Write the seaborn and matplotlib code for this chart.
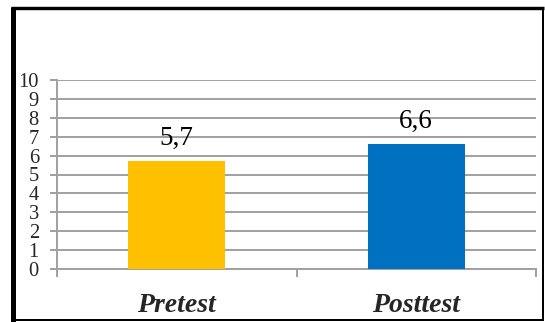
import matplotlib
matplotlib.use("Agg")
import matplotlib.pyplot as plt
import seaborn as sns
import pandas as pd
from matplotlib.lines import Line2D
from matplotlib.ticker import FixedLocator

categories = ["Pretest", "Posttest"]
values = [5.7, 6.6]
value_labels = ["5,7", "6,6"]
colors = ["#FFC000", "#0070C0"]
yticks = list(range(0, 11))

sns.set_style("white")
plt.rcParams['font.family'] = ['Liberation Serif', 'DejaVu Serif']

W, H = 545, 322
fig = plt.figure(figsize=(W / 100, H / 100), dpi=100)
ax = fig.add_axes([57 / W, 1 - 269 / H, (536 - 57) / W, (269 - 80) / H])

df = pd.DataFrame({"cat": categories, "val": values})
sns.barplot(data=df, x="cat", y="val", hue="cat", palette=colors, legend=False,
            width=0.405, saturation=1, ax=ax, zorder=3, edgecolor="none",
            linewidth=0)

grid_c = "#A0A0A0"
ax.set_ylim(0, 10)
ax.set_xlim(-0.5, 1.5)
ax.set_yticks(yticks)
ax.set_yticklabels([str(t) for t in yticks])
ax.yaxis.grid(True, color=grid_c, linewidth=1.4, zorder=0)
ax.set_axisbelow(True)
ax.set_xlabel("")
ax.set_ylabel("")

for s in ["top", "right"]:
    ax.spines[s].set_visible(False)
for s in ["left", "bottom"]:
    ax.spines[s].set_color(grid_c)
    ax.spines[s].set_linewidth(1.4)
    ax.spines[s].set_zorder(1)

ax.tick_params(axis="y", direction="out", length=5, width=1.4, color=grid_c,
               pad=8, labelsize=14.8, left=True)
ax.tick_params(axis="x", which="major", length=0, pad=17, labelsize=20)
ax.xaxis.set_minor_locator(FixedLocator([-0.5, 0.5, 1.5]))
ax.tick_params(axis="x", which="minor", direction="out", length=6, width=1.4,
               color=grid_c, bottom=True)
for lab in ax.get_xticklabels():
    lab.set_fontweight("bold")
    lab.set_fontstyle("italic")

for i, (v, t) in enumerate(zip(values, value_labels)):
    ax.annotate(t, xy=(i, v), xytext=(0, 11.5), textcoords="offset points",
                ha="center", va="baseline", fontsize=19.5, color="black")

def px_line(x0, y0, x1, y1, lw_px):
    fig.add_artist(Line2D([x0 / W, x1 / W], [1 - y0 / H, 1 - y1 / H],
                          transform=fig.transFigure, color="black",
                          linewidth=lw_px * 0.72, solid_capstyle="butt"))

px_line(13.2, 6.7, 13.2, 322, 5)
px_line(10.7, 8.4, 544.3, 8.4, 3.4)
px_line(543.3, 6.7, 543.3, 320.7, 2)
px_line(10.7, 319.7, 544.3, 319.7, 2)

fig.savefig("out.png", dpi=100)
